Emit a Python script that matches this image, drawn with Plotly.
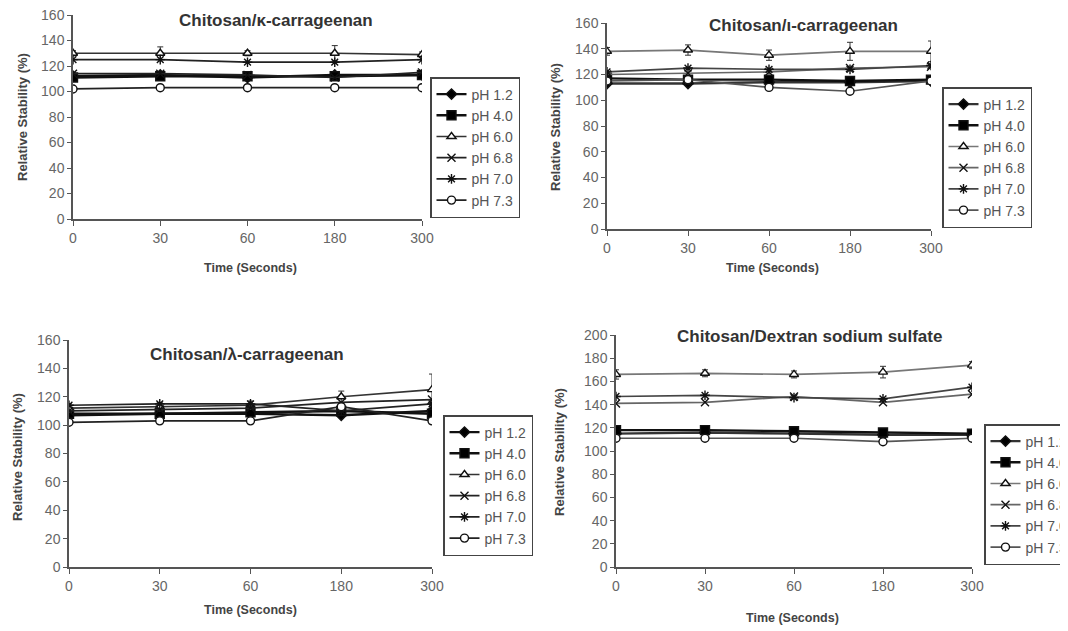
import plotly.graph_objects as go

times = ["0", "30", "60", "180", "300"]
series_names = ["pH 1.2", "pH 4.0", "pH 6.0", "pH 6.8", "pH 7.0", "pH 7.3"]

kappa_12 = [112, 113, 111, 113, 113]
kappa_40 = [111, 112, 112, 112, 113]
kappa_60 = [130, 130, 130, 130, 129]
kappa_68 = [114, 114, 113, 111, 115]
kappa_70 = [125, 125, 123, 123, 125]
kappa_73 = [102, 103, 103, 103, 103]
kappa_err60 = [2, 5, 2, 6, 2]

iota_12 = [113, 113, 114, 114, 115]
iota_40 = [117, 116, 116, 115, 116]
iota_60 = [138, 139, 135, 138, 138]
iota_68 = [120, 121, 122, 125, 126]
iota_70 = [122, 125, 124, 124, 127]
iota_73 = [115, 116, 110, 107, 115]
iota_err60 = [3, 4, 4, 7, 8]

lambda_12 = [107, 108, 108, 107, 110]
lambda_40 = [108, 108, 109, 110, 108]
lambda_60 = [112, 113, 114, 120, 125]
lambda_68 = [110, 111, 112, 116, 118]
lambda_70 = [114, 115, 115, 110, 115]
lambda_73 = [102, 103, 103, 113, 103]
lambda_err60 = [3, 3, 3, 4, 11]

dex_12 = [115, 116, 115, 114, 114]
dex_40 = [118, 118, 117, 116, 115]
dex_60 = [166, 167, 166, 168, 174]
dex_68 = [141, 142, 147, 142, 149]
dex_70 = [147, 148, 146, 145, 155]
dex_73 = [111, 111, 111, 108, 111]
dex_err60 = [4, 3, 3, 5, 3]

panel_titles = ["Chitosan/κ-carrageenan", "Chitosan/ι-carrageenan",
                "Chitosan/λ-carrageenan", "Chitosan/Dextran sodium sulfate"]
y_max = [160, 160, 160, 200]
x_title = "Time (Seconds)"
y_title = "Relative Stability (%)"

panels = [
    ([kappa_12, kappa_40, kappa_60, kappa_68, kappa_70, kappa_73], kappa_err60),
    ([iota_12, iota_40, iota_60, iota_68, iota_70, iota_73], iota_err60),
    ([lambda_12, lambda_40, lambda_60, lambda_68, lambda_70, lambda_73], lambda_err60),
    ([dex_12, dex_40, dex_60, dex_68, dex_70, dex_73], dex_err60),
]

W, H = 1068, 631
OFF = 8  # page body margin offset
def px(x):
    return (x - OFF) / W
def py(y):
    return 1 - (y - OFF) / H

# layout geometry (screen pixels): x0, x1, ytop, ybottom
geo = [(73, 422, 15, 219), (607, 931, 23, 229), (69, 432, 340, 567), (616, 972, 335, 567)]
title_pos = [(276, 20), (803, 25), (247, 354), (809, 336)]
legend_pos = [(430, 77), (942, 87), (443, 415), (984, 424)]
xtitle_pos = [(250, 268), (772, 268), (250, 610), (792, 618)]
ytitle_pos = [(23, 117), (556, 127), (17, 457), (559, 452)]

symbols = ["diamond", "square", "triangle-up", "x-thin", "asterisk", "circle"]
msizes = [8, 9, 8, 8, 8, 8]
fills = ["#000000", "#000000", "#ffffff", "#111111", "#111111", "#ffffff"]
line_cols = ["#111111", "#111111", "#333333", "#222222", "#222222", "#222222"]
line_cols2 = ["#333333", "#111111", "#777777", "#666666", "#444444", "#555555"]

fig = go.Figure()
font_fam = "Liberation Sans, Arial, sans-serif"
font_bold = "Liberation Sans, Arial, sans-serif"

for p, (vals, err) in enumerate(panels):
    suffix = "" if p == 0 else str(p + 1)
    lg = "legend" + suffix
    cols = line_cols2 if p in (1, 3) else line_cols
    for i, name in enumerate(series_names):
        tr = dict(
            x=times, y=vals[i], name=name, mode="lines+markers",
            xaxis="x" + suffix, yaxis="y" + suffix, legend=lg,
            line=dict(color=cols[i], width=2.4 if i in (0, 1) else 1.7),
            marker=dict(symbol=symbols[i], size=msizes[i], color=fills[i],
                        line=dict(color="#111111", width=1.4)),
        )
        if i == 2:
            tr["error_y"] = dict(type="data", array=err, visible=True, color="#333333",
                                 thickness=1, width=3)
        fig.add_trace(go.Scatter(**tr))
    x0, x1, yt, yb = geo[p]
    fig.update_layout(**{
        "xaxis" + suffix: dict(
            domain=[px(x0), px(x1)], anchor="y" + suffix, type="category",
            range=[0, 4], showline=True, linecolor="#555555", linewidth=1.5,
            ticks="outside", ticklen=5, tickcolor="#555555", showgrid=False, zeroline=False,
            automargin=False, ticklabeloverflow="allow",
            tickfont=dict(family=font_fam, size=14, color="#666666"),
        ),
        "yaxis" + suffix: dict(
            domain=[py(yb), py(yt)], anchor="x" + suffix, range=[0, y_max[p]], dtick=20,
            showline=True, linecolor="#555555", linewidth=1.5, ticks="outside", ticklen=4,
            tickcolor="#555555", showgrid=False, zeroline=False, automargin=False,
            ticklabeloverflow="allow",
            tickfont=dict(family=font_fam, size=14, color="#666666"),
        ),
        lg: dict(
            x=px(legend_pos[p][0]), y=py(legend_pos[p][1]), xanchor="left", yanchor="top",
            bordercolor="#444444", borderwidth=1.5, bgcolor="white",
            font=dict(family=font_fam, size=14, color="#555555"),
            itemwidth=30, tracegroupgap=0,
        ),
    })
    tx, ty = title_pos[p]
    fig.add_annotation(x=px(tx), y=py(ty), xref="paper", yref="paper", showarrow=False,
                       xanchor="center", yanchor="middle",
                       text="<b>" + panel_titles[p] + "</b>",
                       font=dict(family=font_bold, size=17, color="#333333"))
    ax_, ay_ = xtitle_pos[p]
    fig.add_annotation(x=px(ax_), y=py(ay_), xref="paper", yref="paper", showarrow=False,
                       xanchor="center", yanchor="middle", text="<b>" + x_title + "</b>",
                       font=dict(family=font_bold, size=12.5, color="#444444"))
    bx_, by_ = ytitle_pos[p]
    fig.add_annotation(x=px(bx_), y=py(by_), xref="paper", yref="paper", showarrow=False,
                       xanchor="center", yanchor="middle", textangle=-90,
                       text="<b>" + y_title + "</b>",
                       font=dict(family=font_bold, size=13, color="#444444"))

fig.update_layout(width=W, height=H, margin=dict(l=0, r=0, t=0, b=0, autoexpand=False),
                  paper_bgcolor="white", plot_bgcolor="white", showlegend=True)

fig.write_html("out.html")
